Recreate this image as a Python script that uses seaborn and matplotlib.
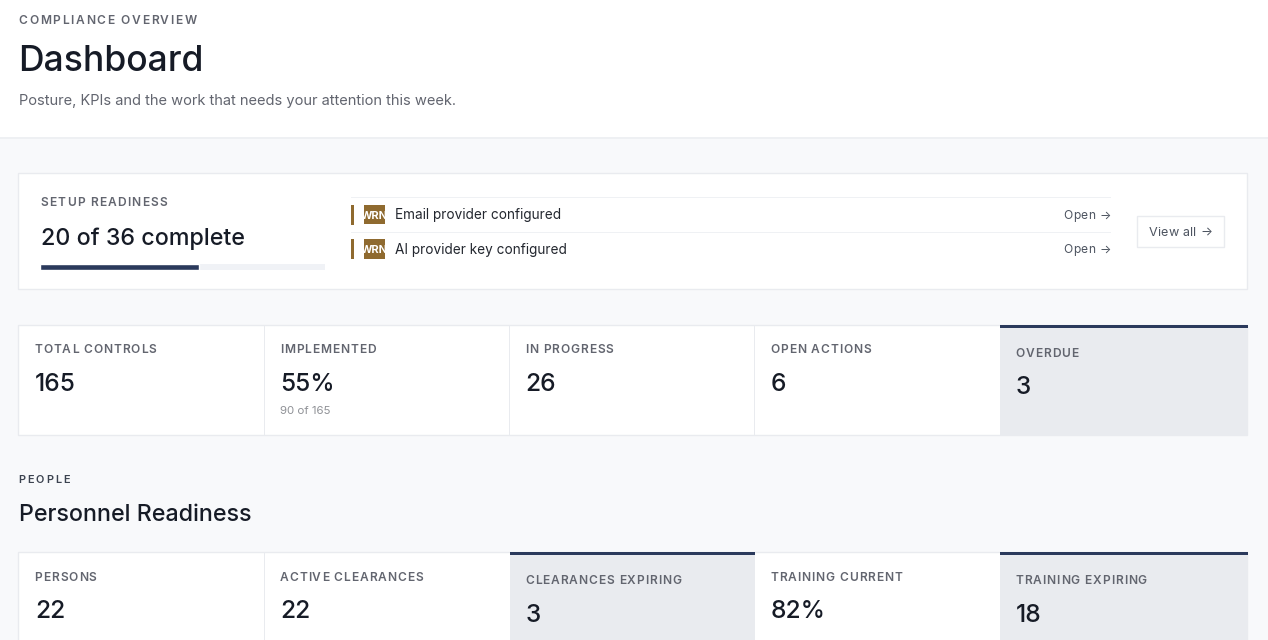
import matplotlib
matplotlib.use("Agg")
import matplotlib.pyplot as plt
from matplotlib.patches import Rectangle
from matplotlib.text import Text
from matplotlib.transforms import Bbox
import seaborn as sns
import pandas as pd

# ---- content ----
eyebrow = "COMPLIANCE OVERVIEW"
page_title = "Dashboard"
page_subtitle = "Posture, KPIs and the work that needs your attention this week."
setup_label = "SETUP READINESS"
setup_done = 20
setup_total = 36
setup_items = ["Email provider configured", "AI provider key configured"]
kpi_labels = ["TOTAL CONTROLS", "IMPLEMENTED", "IN PROGRESS", "OPEN ACTIONS", "OVERDUE"]
kpi_values = ["165", "55%", "26", "6", "3"]
kpi_notes = ["", "90 of 165", "", "", ""]
kpi_alert = [False, False, False, False, True]
people_labels = ["PERSONS", "ACTIVE CLEARANCES", "CLEARANCES EXPIRING", "TRAINING CURRENT", "TRAINING EXPIRING"]
people_values = ["22", "22", "3", "82%", "18"]
people_alert = [False, False, True, False, True]

# ---- style ----
W, H = 1268, 640
BG, WHITE, BORDER = "#f8f9fb", "#ffffff", "#e9ebef"
INK, MUTED, FAINT = "#161b26", "#62656f", "#8f9196"
NAVY, TRACK, BROWN, ALERT = "#2b3a5c", "#f0f2f6", "#8f6a2f", "#e9ebef"

sns.set_theme(style="white")
plt.rcParams["font.family"] = ["Inter", "DejaVu Sans"]

fig = plt.figure(figsize=(W / 100, H / 100), dpi=100, facecolor=BG)
ax = fig.add_axes([0, 0, 1, 1])
ax.set_xlim(0, W)
ax.set_ylim(H, 0)
ax.axis("off")


class SpacedText(Text):
    """One text object holding the whole string, drawn with CSS-like letter spacing."""

    def __init__(self, *args, spacing=0.0, **kwargs):
        super().__init__(*args, **kwargs)
        self.spacing = spacing

    def _prefix_width(self, renderer, s):
        return renderer.get_text_width_height_descent(s, self.get_fontproperties(), False)[0]

    def get_window_extent(self, renderer=None, dpi=None):
        bb = super().get_window_extent(renderer, dpi)
        extra = self.spacing * max(len(self.get_text()) - 1, 0)
        return Bbox.from_extents(bb.x0, bb.y0, bb.x1 + extra, bb.y1)

    def draw(self, renderer):
        full = self.get_text()
        x0, y0 = self.get_transform().transform(self.get_position())
        canvas_h = renderer.get_canvas_width_height()[1]
        gc = renderer.new_gc()
        gc.set_foreground(self.get_color())
        gc.set_antialiased(True)
        fp = self.get_fontproperties()
        for i, ch in enumerate(full):
            if ch != " ":
                x = x0 + self._prefix_width(renderer, full[:i + 1]) \
                    - self._prefix_width(renderer, ch) + i * self.spacing
                renderer.draw_text(gc, x, canvas_h - y0, ch, fp, 0, ismath=False)
        gc.restore()


def px(s):
    return s * 0.72


def box(x0, y0, x1, y1, fc, ec="none", lw=0, z=1):
    ax.add_patch(Rectangle((x0, y0), x1 - x0, y1 - y0, facecolor=fc, edgecolor=ec, linewidth=lw, zorder=z))


def txt(x, y, s, size, color=INK, weight="normal", ha="left"):
    return ax.text(x, y, s, fontsize=px(size), color=color, fontweight=weight, ha=ha, va="baseline", zorder=5)


def label(x, y, s, size, spacing, color=MUTED, weight=600):
    t = SpacedText(x, y, s, spacing=spacing, fontsize=px(size), color=color, fontweight=weight,
                   ha="left", va="baseline", zorder=5, transform=ax.transData)
    ax.add_artist(t)
    return t


# header
box(0, 0, W, 137, WHITE)
box(0, 137, W, 138.5, "#eef0f3")
label(18.5, 23.5, eyebrow, 12, 1.65)
txt(18, 71, page_title, 35.5, INK, 500)
txt(19, 105, page_subtitle, 14.66, MUTED)

# setup card
box(18, 173, 1247, 289, WHITE, BORDER, 1)
label(40.3, 206, setup_label, 12, 1.2)
txt(41, 245, f"{setup_done} of {setup_total} complete", 23.25, INK, 500)

# progress bar through seaborn
pax = fig.add_axes([40.2 / W, 1 - 269.5 / H, 285 / W, 5.5 / H], facecolor=TRACK)
sns.barplot(data=pd.DataFrame({"task": ["done"], "n": [setup_done]}), x="n", y="task",
            color=NAVY, saturation=1, width=1, ax=pax)
pax.set_xlim(0, setup_total)
pax.set_ylim(0.45, -0.45)
pax.set_xticks([])
pax.set_yticks([])
pax.set_xlabel("")
pax.set_ylabel("")
sns.despine(ax=pax, left=True, bottom=True)

# setup rows
for y in (197, 232):
    box(351, y - 0.5, 1111, y + 0.7, "#eff1f4")
for i, item in enumerate(setup_items):
    top = 204.7 + i * 34.5
    box(351, top, 353.5, top + 20, BROWN)
    badge = Rectangle((364.3, top), 20.5, 19.5, facecolor=BROWN, edgecolor="none", zorder=2)
    ax.add_patch(badge)
    t = ax.text(374.5, top + 14, "WRN", fontsize=px(11), color=WHITE, fontweight="bold",
                ha="center", va="baseline", zorder=3)
    t.set_clip_path(badge)
    txt(395, top + 14.5, item, 13.6, "#23272f")
    label(1063.4, top + 14, "Open →", 12, 0.4, "#4d5460", 400)

box(1136.5, 216, 1224, 246.5, WHITE, BORDER, 1, z=2)
label(1148.5, 236, "View all →", 12.6, 0.3, "#4d5460", 400)


def kpi_row(top, bottom, labels, values, alerts, label_y, value_y, notes=None):
    box(18, top, 1247, bottom, WHITE, BORDER, 1)
    step = 245.2
    for i, lab in enumerate(labels):
        x0 = 19.3 + i * step
        x1 = 1247.5 if i == len(labels) - 1 else x0 + step
        if alerts[i]:
            box(x0, top - 0.5, x1, bottom + 0.5, ALERT, z=2)
            box(x0, top - 0.5, x1, top + 3, NAVY, z=3)
        elif i and not alerts[i - 1]:
            box(x0 - 0.6, top, x0 + 0.4, bottom, BORDER, z=2)
        tx = x0 + 15.7
        label(tx - 0.5, label_y[1 if alerts[i] else 0], lab, 12, 0.9)
        txt(tx, value_y[1 if alerts[i] else 0], values[i], 24.5, INK, 500)
        if notes and notes[i]:
            txt(tx, top + 89.5, notes[i], 11.5, FAINT)


kpi_row(325, 435, kpi_labels, kpi_values, kpi_alert, (353, 357), (391, 394), kpi_notes)

# section heading
label(18.5, 483, "PEOPLE", 11, 1.9, "#3c4350")
txt(19, 521, "Personnel Readiness", 23.3, INK, 500)

kpi_row(552, 660, people_labels, people_values, people_alert, (581, 584), (618, 622))

fig.savefig("out.png", dpi=100, facecolor=BG)
